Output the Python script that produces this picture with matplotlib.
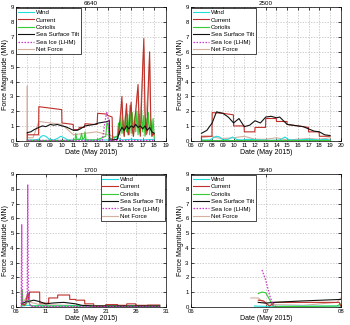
import matplotlib
matplotlib.use("Agg")
import matplotlib.pyplot as plt
from matplotlib.ticker import FixedLocator, FuncFormatter

plt.rcParams['font.family'] = ['Liberation Sans', 'DejaVu Sans']

# ---------------- data (day of May 2015) ----------------
# Panel 6640
p1_wind_t = [7.0, 7.5, 8.0, 8.2, 8.4, 8.6, 8.9, 9.3, 9.6, 9.9, 10.2, 10.5, 11.0, 11.5, 12.0, 13.0, 14.0, 14.5, 14.7, 14.9, 15.2, 16.0, 17.0, 18.0]
p1_wind_v = [0.05, 0.05, 0.1, 0.3, 0.35, 0.3, 0.1, 0.05, 0.15, 0.3, 0.2, 0.05, 0.05, 0.12, 0.05, 0.05, 0.05, 0.1, 0.3, 0.15, 0.05, 0.1, 0.05, 0.1]
p1_cur_t = [7.0, 7.0, 7.05, 7.98, 8.0, 9.0, 9.98, 10.0, 10.98, 11.0, 11.45, 11.5, 11.95, 12.0, 12.8, 13.05, 13.1, 13.9, 14.0, 14.35, 14.4, 14.8,
            14.9, 15.0, 15.1, 15.2, 15.3, 15.4, 15.5, 15.6, 15.7, 15.8, 15.9, 16.0, 16.1, 16.2, 16.3, 16.4, 16.5, 16.6, 16.7, 16.8,
            16.9, 17.0, 17.1, 17.2, 17.3, 17.4, 17.5, 17.6, 17.7, 17.8, 17.9, 18.0]
p1_cur_v = [0.0, 0.5, 0.4, 0.4, 2.3, 2.2, 2.1, 1.2, 1.1, 0.75, 0.75, 0.9, 0.9, 1.15, 1.1, 1.1, 1.85, 1.8, 1.7, 1.6, 0.05, 0.1,
            0.5, 1.2, 2.0, 3.0, 1.0, 0.3, 1.5, 2.5, 0.6, 0.4, 1.8, 2.6, 0.8, 0.3, 1.2, 2.0, 3.0, 3.8, 0.9, 0.3,
            2.5, 5.0, 6.9, 2.0, 0.4, 1.5, 4.0, 6.0, 1.5, 0.3, 0.5, 0.4]
p1_cor_t = [7.0, 11.0, 11.15, 11.2, 11.3, 11.6, 11.7, 11.8, 11.95, 12.0, 12.1, 13.0, 13.8, 13.9, 14.0, 14.1, 14.8,
            14.9, 15.0, 15.1, 15.2, 15.3, 15.4, 15.5, 15.6, 15.7, 15.8, 15.9, 16.0, 16.1, 16.2, 16.3, 16.4, 16.5, 16.6, 16.7, 16.8,
            16.9, 17.0, 17.1, 17.2, 17.3, 17.4, 17.5, 17.6, 17.7, 17.8, 17.9, 18.0]
p1_cor_v = [0.02, 0.02, 0.1, 0.5, 0.05, 0.1, 0.5, 0.1, 0.2, 0.6, 0.05, 0.05, 0.3, 1.2, 1.1, 0.1, 0.3,
            1.2, 0.4, 1.6, 0.5, 1.4, 0.3, 1.7, 0.6, 1.8, 0.4, 2.4, 0.5, 1.9, 0.3, 1.6, 0.6, 2.0, 0.4, 1.8, 0.5,
            2.1, 0.6, 1.7, 0.3, 1.5, 0.5, 1.9, 0.4, 1.4, 0.3, 1.5, 0.2]
p1_sst_t = [7.0, 7.3, 7.6, 8.0, 8.3, 8.6, 9.0, 9.3, 9.6, 10.0, 10.3, 10.6, 11.0, 11.3, 11.6, 12.0, 12.4, 12.8, 13.2, 13.6, 14.0, 14.1, 14.15, 14.8,
            15.0, 15.2, 15.4, 15.6, 15.8, 16.0, 16.2, 16.4, 16.6, 16.8, 17.0, 17.2, 17.4, 17.6, 17.8, 18.0]
p1_sst_v = [0.55, 0.6, 0.75, 0.9, 1.0, 0.95, 1.1, 1.05, 1.1, 1.0, 0.95, 0.85, 0.7, 0.7, 0.8, 1.0, 1.05, 1.1, 1.2, 1.25, 1.3, 1.4, 0.02, 0.1,
            0.6, 0.9, 0.7, 1.0, 0.8, 1.0, 0.9, 1.1, 0.9, 1.0, 0.8, 1.0, 0.7, 0.9, 0.6, 0.5]
p1_ice_t = [7.0, 13.5, 13.8, 13.9, 14.0, 14.1, 18.0]
p1_ice_v = [0.02, 0.02, 1.6, 1.9, 1.5, 0.02, 0.02]
p1_net_t = [6.98, 7.0, 7.02, 7.5, 8.0, 9.0, 10.0, 11.0, 12.0, 13.0, 14.0, 14.8, 15.1, 15.2, 15.3, 15.5, 15.6, 15.7, 15.9, 16.0, 16.1,
            16.5, 16.6, 16.7, 17.0, 17.1, 17.2, 17.5, 17.6, 17.7, 18.0]
p1_net_v = [0.0, 3.7, 0.2, 0.2, 1.3, 1.2, 1.1, 0.4, 0.5, 0.6, 0.4, 0.2, 1.5, 2.6, 0.5, 1.2, 2.2, 0.4, 1.4, 2.3, 0.5,
            2.6, 3.4, 0.6, 4.5, 6.3, 1.0, 3.6, 5.5, 1.0, 0.3]

# Panel 2500
p2_wind_t = [7.0, 7.8, 8.1, 8.4, 8.7, 9.0, 9.5, 9.9, 10.3, 10.8, 11.3, 11.8, 12.5, 13.5, 14.3, 14.8, 15.2, 16.0, 17.0, 18.0, 18.5, 19.0]
p2_wind_v = [0.05, 0.05, 0.2, 0.3, 0.25, 0.05, 0.1, 0.25, 0.08, 0.05, 0.1, 0.08, 0.05, 0.03, 0.05, 0.25, 0.05, 0.05, 0.1, 0.05, 0.1, 0.05]
p2_cur_t = [7.0, 7.0, 7.98, 8.0, 9.0, 9.98, 10.0, 10.98, 11.0, 11.98, 12.0, 12.98, 13.0, 13.98, 14.0, 14.98, 15.0, 16.0, 16.98, 17.0, 17.98, 18.0, 19.0]
p2_cur_v = [0.0, 0.3, 0.3, 1.9, 1.85, 1.75, 1.0, 1.0, 0.6, 0.6, 0.9, 0.9, 1.5, 1.5, 1.3, 1.3, 1.1, 1.0, 0.9, 0.6, 0.6, 0.3, 0.3]
p2_sst_t = [7.0, 7.5, 8.0, 8.4, 9.0, 9.5, 10.0, 10.5, 11.0, 11.5, 12.0, 12.5, 13.0, 13.5, 14.0, 14.3, 15.0, 15.5, 16.0, 16.5, 17.0, 17.5, 18.0, 18.5, 19.0]
p2_sst_v = [0.5, 0.7, 1.2, 1.95, 1.85, 1.6, 1.2, 1.5, 0.95, 1.05, 1.35, 1.2, 1.6, 1.65, 1.55, 1.6, 1.1, 1.05, 1.0, 0.95, 0.8, 0.65, 0.6, 0.4, 0.35]
p2_cor_t = [7.0, 19.0]
p2_cor_v = [0.02, 0.02]
p2_ice_t = [7.0, 19.0]
p2_ice_v = [0.01, 0.01]
p2_net_t = [7.0, 8.0, 8.4, 9.0, 10.0, 11.0, 12.0, 13.0, 14.0, 15.0, 16.0, 17.0, 18.0, 19.0]
p2_net_v = [0.2, 0.3, 0.2, 0.15, 0.2, 0.3, 0.1, 0.1, 0.2, 0.05, 0.1, 0.15, 0.1, 0.2]

# Panel 1700
p3_wind_t = [7.0, 8.0, 9.0, 10.0, 12.0, 15.0, 20.0, 25.0, 30.0]
p3_wind_v = [0.05, 0.1, 0.05, 0.1, 0.05, 0.08, 0.05, 0.05, 0.05]
p3_cur_t = [7.0, 7.5, 7.8, 8.0, 8.2, 8.3, 9.98, 10.0, 11.48, 11.5, 12.98, 13.0, 14.98, 15.0, 15.98, 16.0, 17.48, 17.5, 18.98, 19.0,
            20.98, 21.0, 22.98, 23.0, 24.48, 24.5, 25.98, 26.0, 27.98, 28.0, 30.0]
p3_cur_v = [0.2, 0.1, 0.6, 0.9, 0.5, 1.0, 1.0, 0.25, 0.25, 0.6, 0.6, 0.8, 0.8, 0.5, 0.5, 0.45, 0.45, 0.2, 0.2, 0.05,
            0.05, 0.15, 0.15, 0.1, 0.1, 0.2, 0.2, 0.1, 0.1, 0.12, 0.12]
p3_cor_t = [7.0, 7.1, 7.2, 7.8, 8.0, 8.2, 8.4, 9.0, 30.0]
p3_cor_v = [0.1, 1.1, 0.1, 0.2, 1.0, 0.3, 0.1, 0.05, 0.05]
p3_sst_t = [7.0, 7.5, 8.5, 9.0, 10.0, 11.0, 12.0, 13.0, 14.0, 15.0, 16.0, 17.0, 18.0, 19.0, 22.0, 26.0, 30.0]
p3_sst_v = [0.2, 0.3, 0.4, 0.45, 0.35, 0.2, 0.25, 0.28, 0.3, 0.25, 0.2, 0.1, 0.08, 0.05, 0.05, 0.05, 0.05]
p3_ice_t = [6.9, 7.0, 7.1, 7.9, 8.0, 8.1, 8.5, 30.0]
p3_ice_v = [0.0, 5.6, 0.2, 0.3, 8.3, 0.5, 0.02, 0.0]
p3_net_t = [6.98, 7.0, 7.1, 8.0, 8.5, 10.0, 15.0, 20.0, 30.0]
p3_net_v = [0.0, 1.2, 0.2, 0.8, 0.3, 0.15, 0.1, 0.05, 0.05]

# Panel 5640
p4_wind_t = [6.85, 7.0, 7.5, 8.0]
p4_wind_v = [0.05, 0.03, 0.05, 0.05]
p4_cur_t = [6.9, 6.97, 7.05, 7.12, 7.5, 7.98, 8.0]
p4_cur_v = [0.45, 0.4, 0.05, 0.3, 0.3, 0.3, 0.05]
p4_cor_t = [6.9, 6.95, 7.0, 7.05, 7.1, 7.5, 7.95, 8.0]
p4_cor_v = [0.9, 1.0, 0.95, 0.5, 0.02, 0.02, 0.05, 0.2]
p4_sst_t = [6.9, 7.0, 7.1, 7.5, 8.0]
p4_sst_v = [0.3, 0.25, 0.3, 0.4, 0.5]
p4_ice_t = [6.95, 7.0, 7.05, 7.1, 7.15]
p4_ice_v = [2.5, 1.8, 0.8, 0.1, 0.0]
p4_net_t = [6.8, 6.9, 7.0, 7.05, 7.1, 7.5, 7.95, 8.0]
p4_net_v = [0.6, 0.6, 0.2, 0.1, 0.15, 0.1, 0.3, 0.6]

titles = ["6640", "2500", "1700", "5640"]
xlims = [(6, 19), (6, 20), (6, 31), (6, 8)]
xticks = [list(range(6, 20)), list(range(6, 21)), [6, 11, 16, 21, 26, 31], [6, 7, 8]]
legend_locs = ["upper left", "upper left", "upper right", "upper left"]
labels = ["Wind", "Current", "Coriolis", "Sea Surface Tilt", "Sea Ice (LHM)", "Net Force"]

panels = [
    [(p1_wind_t, p1_wind_v), (p1_cur_t, p1_cur_v), (p1_cor_t, p1_cor_v), (p1_sst_t, p1_sst_v), (p1_ice_t, p1_ice_v), (p1_net_t, p1_net_v)],
    [(p2_wind_t, p2_wind_v), (p2_cur_t, p2_cur_v), (p2_cor_t, p2_cor_v), (p2_sst_t, p2_sst_v), (p2_ice_t, p2_ice_v), (p2_net_t, p2_net_v)],
    [(p3_wind_t, p3_wind_v), (p3_cur_t, p3_cur_v), (p3_cor_t, p3_cor_v), (p3_sst_t, p3_sst_v), (p3_ice_t, p3_ice_v), (p3_net_t, p3_net_v)],
    [(p4_wind_t, p4_wind_v), (p4_cur_t, p4_cur_v), (p4_cor_t, p4_cor_v), (p4_sst_t, p4_sst_v), (p4_ice_t, p4_ice_v), (p4_net_t, p4_net_v)],
]

styles = [
    dict(color="#22DDDD", lw=0.8, ls="-"),
    dict(color="#C0302A", lw=0.8, ls="-"),
    dict(color="#33CC33", lw=0.8, ls="-"),
    dict(color="#111111", lw=0.8, ls="-"),
    dict(color="#CC33CC", lw=0.9, ls=(0, (1.2, 1.2))),
    dict(color="#D4B0A0", lw=0.8, ls="-"),
]
zorders = [3, 4, 3, 5, 6, 2]

fig = plt.figure(figsize=(3.5, 3.25), dpi=100)
positions = [
    [0.045, 0.567, 0.4286, 0.410],
    [0.545, 0.567, 0.4286, 0.410],
    [0.045, 0.056, 0.4286, 0.408],
    [0.545, 0.056, 0.4286, 0.408],
]

for i in range(4):
    ax = fig.add_axes(positions[i])
    for j, (t, v) in enumerate(panels[i]):
        ax.plot(t, v, label=labels[j], zorder=zorders[j], **styles[j])
    ax.set_xlim(*xlims[i])
    ax.set_ylim(0, 9)
    ax.xaxis.set_major_locator(FixedLocator(xticks[i]))
    ax.xaxis.set_major_formatter(FuncFormatter(lambda x, p: "%02d" % int(round(x))))
    ax.set_yticks(range(0, 10))
    ax.tick_params(direction="in", length=2, width=0.5, labelsize=4.3, pad=1.5,
                   top=True, right=True)
    ax.grid(True, ls=(0, (2, 2)), color="#BBBBBB", lw=0.5)
    for s in ax.spines.values():
        s.set_linewidth(0.5)
    ax.set_title(titles[i], fontsize=4.5, pad=1.5)
    ax.set_xlabel("Date (May 2015)", fontsize=5, labelpad=1)
    ax.set_ylabel("Force Magnitude (MN)", fontsize=5, labelpad=1)
    leg = ax.legend(loc=legend_locs[i], fontsize=4.4, frameon=True, fancybox=False,
                    edgecolor="black", framealpha=1, handlelength=2.6,
                    borderpad=0.3, labelspacing=0.35, handletextpad=0.3,
                    borderaxespad=0.1)
    leg.get_frame().set_linewidth(0.5)

fig.savefig("out.png", dpi=100)
